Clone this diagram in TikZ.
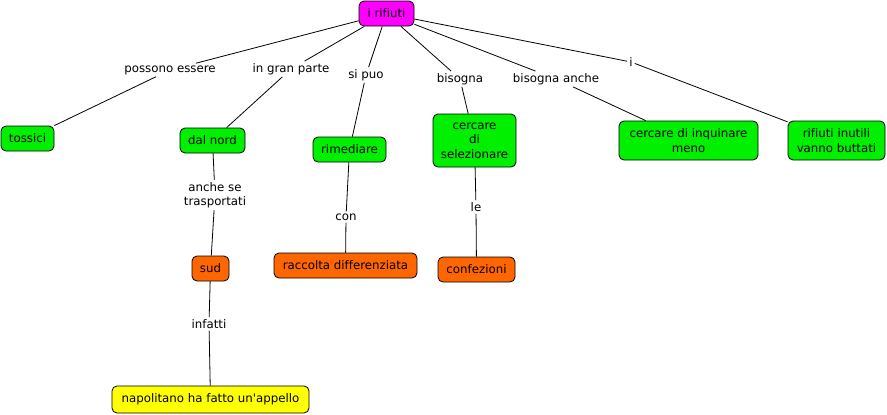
\documentclass[tikz,border=0pt]{standalone}
\usepackage{fontspec}
\setmainfont[Ligatures=NoCommon]{DejaVu Sans}
\begin{document}
\begin{tikzpicture}[x=1pt,y=-1pt,
  concept/.style={draw=black, rounded corners=5pt, line width=0.8pt, inner sep=1pt, align=center, font=\fontsize{11.8}{14.5}\selectfont, text=black},
  lbl/.style={fill=white, inner sep=2pt, align=center, font=\fontsize{11.8}{14.5}\selectfont, text=black},
  conn/.style={line width=0.8pt, black}]
\useasboundingbox (0,0) rectangle (887,415);
\definecolor{cmag}{RGB}{255,0,255}
\definecolor{cgreen}{RGB}{0,240,0}
\definecolor{corange}{RGB}{255,102,0}
\definecolor{cyellow}{RGB}{255,255,0}
% concepts
\node[concept, fill=cmag, minimum width=55, minimum height=25] (rif) at (386.5,13.5) {i rifiuti};
\node[concept, fill=cgreen, minimum width=53, minimum height=25] (tos) at (27.5,138.5) {tossici};
\node[concept, fill=cgreen, minimum width=65, minimum height=25] (nord) at (212.5,140.5) {dal nord};
\node[concept, fill=cgreen, minimum width=73, minimum height=25] (rim) at (349.5,149.5) {rimediare};
\node[concept, fill=cgreen, minimum width=83, minimum height=53] (sel) at (474.5,140.5) {cercare\\di\\selezionare};
\node[concept, fill=cgreen, minimum width=139, minimum height=39] (inq) at (688.5,140.5) {cercare di inquinare\\meno};
\node[concept, fill=cgreen, minimum width=97, minimum height=39] (but) at (836.5,140.5) {rifiuti inutili\\vanno buttati};
\node[concept, fill=corange, minimum width=37, minimum height=25] (sud) at (210.5,268.5) {sud};
\node[concept, fill=corange, minimum width=143, minimum height=25] (rac) at (345.5,265.5) {raccolta differenziata};
\node[concept, fill=corange, minimum width=77, minimum height=25] (conf) at (476.5,269.5) {confezioni};
\node[concept, fill=cyellow, minimum width=197, minimum height=27] (nap) at (210.5,399.5) {napolitano ha fatto un\textquotesingle appello};
% linking phrases
\node[lbl] (l1) at (170,70) {possono essere};
\node[lbl] (l2) at (291,69) {in gran parte};
\node[lbl] (l3) at (366,75) {si puo};
\node[lbl] (l4) at (460,79) {bisogna};
\node[lbl] (l5) at (556,79) {bisogna anche};
\node[lbl] (l6) at (631,62) {i};
\node[lbl] (l7) at (215,195) {anche se\\trasportati};
\node[lbl] (l8) at (346,217) {con};
\node[lbl] (l9) at (476,207) {le};
\node[lbl] (l10) at (209,324) {infatti};
% connectors
\draw[conn] (rif) -- (l1); \draw[conn] (l1) -- (tos);
\draw[conn] (rif) -- (l2); \draw[conn] (l2) -- (nord);
\draw[conn] (rif) -- (l3); \draw[conn] (l3) -- (rim);
\draw[conn] (rif) -- (l4); \draw[conn] (l4) -- (sel);
\draw[conn] (rif) -- (l5); \draw[conn] (l5) -- (inq);
\draw[conn] (rif) -- (l6); \draw[conn] (l6) -- (but);
\draw[conn] (nord) -- (l7); \draw[conn] (l7) -- (sud);
\draw[conn] (rim) -- (l8); \draw[conn] (l8) -- (rac);
\draw[conn] (sel) -- (l9); \draw[conn] (l9) -- (conf);
\draw[conn] (sud) -- (l10); \draw[conn] (l10) -- (nap);
\end{tikzpicture}
\end{document}
